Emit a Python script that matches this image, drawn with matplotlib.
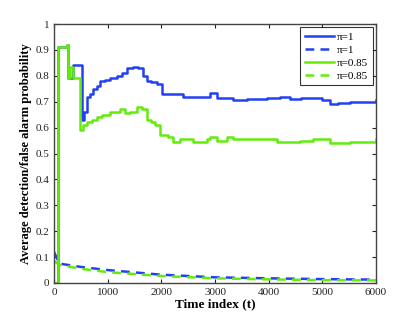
import matplotlib
matplotlib.use("Agg")
import matplotlib.pyplot as plt
import numpy as np

# solid curves (detection probability)
t_pi1 = [0, 80, 236, 255, 348, 515, 560, 608, 680, 732, 800, 855, 950, 1050, 1166, 1260,
         1352, 1476, 1570, 1650, 1726, 1800, 1912, 2005, 2222, 2408, 2600, 2843, 2905,
         3030, 3278, 3340, 3600, 3960, 4209, 4395, 4600, 4830, 5000, 5140, 5300, 5513, 6000]
p_pi1 = [0.0, 0.91, 0.92, 0.79, 0.84, 0.63, 0.66, 0.72, 0.73, 0.75, 0.76, 0.78, 0.785, 0.79,
         0.80, 0.81, 0.83, 0.835, 0.83, 0.80, 0.78, 0.775, 0.77, 0.73, 0.73, 0.72, 0.72,
         0.72, 0.735, 0.715, 0.715, 0.705, 0.71, 0.715, 0.72, 0.71, 0.715, 0.715, 0.705,
         0.69, 0.695, 0.70, 0.705]

t_pi085 = [0, 80, 236, 255, 300, 360, 484, 540, 608, 700, 795, 900, 1043, 1228, 1320,
           1414, 1538, 1631, 1726, 1800, 1880, 1974, 2130, 2222, 2346, 2595, 2843, 2905,
           3030, 3216, 3340, 3960, 4147, 4582, 4830, 5140, 5513, 6000]
p_pi085 = [0.0, 0.91, 0.92, 0.79, 0.835, 0.79, 0.59, 0.61, 0.62, 0.63, 0.64, 0.65, 0.66,
           0.67, 0.655, 0.66, 0.68, 0.67, 0.63, 0.62, 0.61, 0.57, 0.565, 0.545, 0.555,
           0.545, 0.555, 0.565, 0.55, 0.565, 0.555, 0.555, 0.545, 0.55, 0.555, 0.54,
           0.545, 0.555]

# dashed curves (false alarm probability)
t_fa = [0, 100, 500, 1000, 2000, 3000, 4000, 5000, 6000]
fa_pi1 = [0.12, 0.075, 0.062, 0.05, 0.032, 0.022, 0.018, 0.015, 0.013]
fa_pi085 = [0.085, 0.07, 0.055, 0.042, 0.027, 0.018, 0.014, 0.011, 0.010]

blue = "#2341f2"
green = "#62ec0c"

plt.rcParams["font.family"] = ["Liberation Serif", "DejaVu Serif"]

fig = plt.figure(figsize=(4.15, 3.19), dpi=100)
ax = fig.add_axes([54 / 415, 1 - 283 / 319, 322 / 415, 259 / 319])

ax.plot(t_pi1, p_pi1, color=blue, lw=1.8, drawstyle="steps-post", label="π=1")
ax.plot(t_fa, fa_pi1, color=blue, lw=1.8, ls=(0, (3.5, 2.5)), label="π=1")
ax.plot(t_pi085, p_pi085, color=green, lw=1.8, drawstyle="steps-post", label="π=0.85")
ax.plot(t_fa, fa_pi085, color=green, lw=1.8, ls=(0, (3.5, 2.5)), label="π=0.85")

ax.set_xlim(0, 6000)
ax.set_ylim(0, 1)
ax.set_xticks(np.arange(0, 6001, 1000))
ax.set_yticks(np.arange(0, 1.01, 0.1))
ax.set_yticklabels(["0"] + [f"{v:.1f}" for v in np.arange(0.1, 0.95, 0.1)] + ["1"])
ax.tick_params(direction="in", top=True, right=True, labelsize=8, length=3, colors="#222")
for sp in ax.spines.values():
    sp.set_color("#444")
    sp.set_linewidth(1.0)

ax.set_xlabel("Time index (t)", fontsize=9.5, fontweight="bold", labelpad=1)
ax.set_ylabel("Average detection/false alarm probability", fontsize=9, fontweight="bold", labelpad=2)

leg = ax.legend(loc="upper right", fontsize=8, frameon=True, fancybox=False,
                edgecolor="black", handlelength=2.6, borderpad=0.4, labelspacing=0.3,
                handletextpad=0.3, borderaxespad=0.3)
leg.get_frame().set_linewidth(0.8)

fig.savefig("out.png", dpi=100)
